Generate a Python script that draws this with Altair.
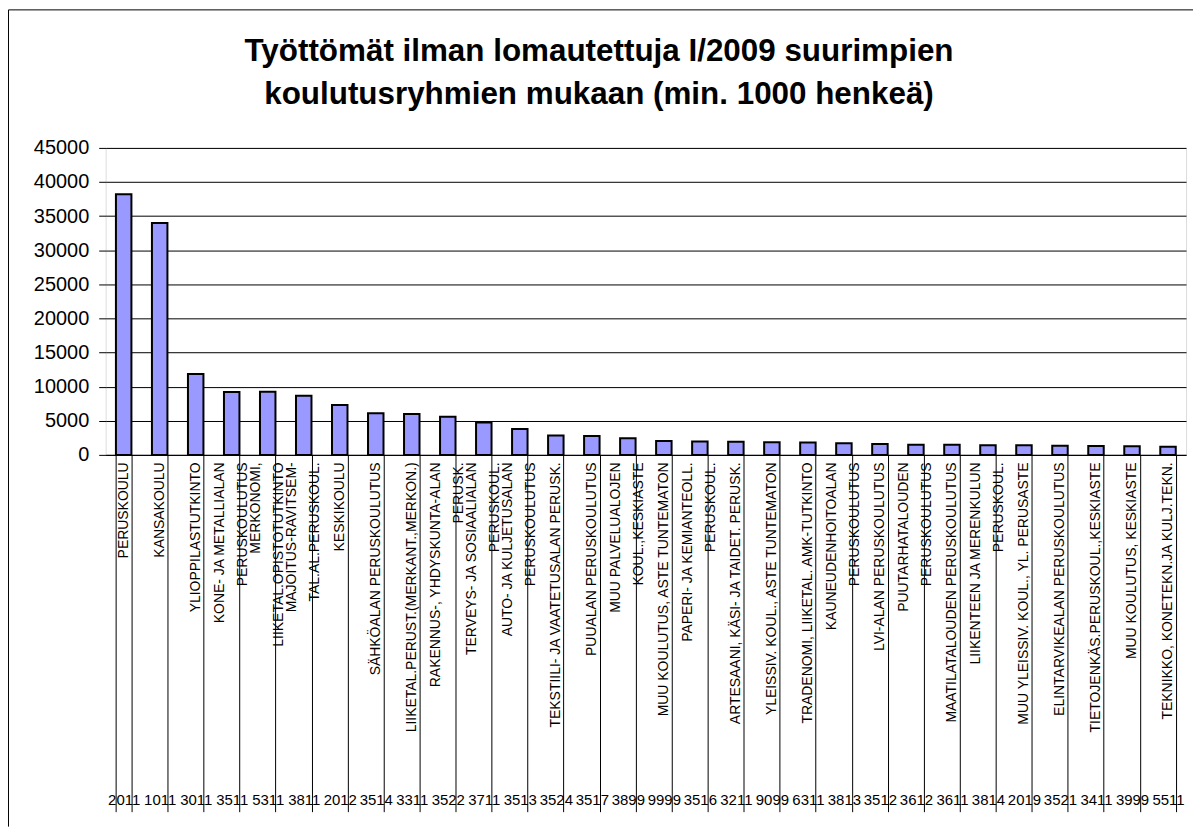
import altair as alt
import pandas as pd

FONT = "Liberation Sans"

codes = ["2011", "1011", "3011", "3511", "5311", "3811", "2012", "3514", "3311", "3522",
         "3711", "3513", "3524", "3517", "3899", "9999", "3516", "3211", "9099", "6311",
         "3813", "3512", "3612", "3611", "3814", "2019", "3521", "3411", "3999", "5511"]

names = [
    ["PERUSKOULU"],
    ["KANSAKOULU"],
    ["YLIOPPILASTUTKINTO"],
    ["KONE- JA METALLIALAN", "PERUSKOULUTUS"],
    ["MERKONOMI,", "LIIKETAL.OPISTOTUTKINTO"],
    ["MAJOITUS-RAVITSEM-", "TAL.AL.PERUSKOUL."],
    ["KESKIKOULU"],
    ["SÄHKÖALAN PERUSKOULUTUS"],
    ["LIIKETAL.PERUST.(MERKANT.,MERKON.)"],
    ["RAKENNUS-, YHDYSKUNTA-ALAN", "PERUSK."],
    ["TERVEYS- JA SOSIAALIALAN", "PERUSKOUL."],
    ["AUTO- JA KULJETUSALAN", "PERUSKOULUTUS"],
    ["TEKSTIILI- JA VAATETUSALAN PERUSK."],
    ["PUUALAN PERUSKOULUTUS"],
    ["MUU PALVELUALOJEN", "KOUL.,KESKIASTE"],
    ["MUU KOULUTUS, ASTE TUNTEMATON"],
    ["PAPERI- JA KEMIANTEOLL.", "PERUSKOUL."],
    ["ARTESAANI, KÄSI- JA TAIDET. PERUSK."],
    ["YLEISSIV. KOUL., ASTE TUNTEMATON"],
    ["TRADENOMI, LIIKETAL. AMK-TUTKINTO"],
    ["KAUNEUDENHOITOALAN", "PERUSKOULUTUS"],
    ["LVI-ALAN PERUSKOULUTUS"],
    ["PUUTARHATALOUDEN", "PERUSKOULUTUS"],
    ["MAATILATALOUDEN PERUSKOULUTUS"],
    ["LIIKENTEEN JA MERENKULUN", "PERUSKOUL."],
    ["MUU YLEISSIV. KOUL., YL. PERUSASTE"],
    ["ELINTARVIKEALAN PERUSKOULUTUS"],
    ["TIETOJENKÄS.PERUSKOUL.,KESKIASTE"],
    ["MUU KOULUTUS, KESKIASTE"],
    ["TEKNIKKO, KONETEKN.JA KULJ.TEKN."],
]

values = [38200, 34000, 11850, 9200, 9250, 8650, 7300, 6100, 6000, 5600,
          4750, 3800, 2850, 2750, 2450, 2050, 1950, 1930, 1850, 1830,
          1700, 1600, 1500, 1480, 1420, 1400, 1320, 1300, 1280, 1200]

y_ticks = [0, 5000, 10000, 15000, 20000, 25000, 30000, 35000, 40000, 45000]

title_lines = ["Työttömät ilman lomautettuja I/2009 suurimpien",
               "koulutusryhmien mukaan (min. 1000 henkeä)"]

keys = [c + "|" + "|".join(n) for c, n in zip(codes, names)]
df = pd.DataFrame({"key": keys, "value": values})

W, H = 1084, 308

xscale = alt.Scale(paddingInner=0.57, paddingOuter=0.285)
yscale = alt.Scale(domain=[0, 45000], nice=False)

y_axis = alt.Axis(values=y_ticks, title=None, grid=True, format="d",
                  gridColor="#000000", gridWidth=1, domain=False,
                  tickColor="#000000", tickSize=7, tickWidth=1,
                  labelFont=FONT, labelFontSize=20, labelPadding=10,
                  labelColor="#000000")

name_offset = alt.condition("length(split(datum.value, '|')) > 2",
                            alt.value(-12), alt.value(0))

bars = alt.Chart(df).mark_bar(
    fill="#9999FF", stroke="#000000", strokeWidth=2
).encode(
    x=alt.X("key:N", sort=keys, scale=xscale,
            axis=alt.Axis(orient="bottom", title=None, labelAngle=270,
                          labelAlign="right", labelBaseline="middle",
                          labelExpr="slice(split(datum.value, '|'), 1)",
                          labelFont=FONT, labelFontSize=14, labelLineHeight=23,
                          labelOffset=name_offset,
                          labelPadding=7, labelColor="#000000", labelLimit=500,
                          labelOverlap=False, ticks=False, domain=True,
                          domainColor="#000000", domainWidth=1)),
    y=alt.Y("value:Q", scale=yscale, axis=y_axis),
)

code_axis = alt.Chart(df).mark_point(opacity=0).encode(
    x=alt.X("key:N", sort=keys, scale=xscale,
            axis=alt.Axis(orient="bottom", title=None, labelAngle=0,
                          labelAlign="center", labelBaseline="top",
                          labelExpr="datum.value ? split(datum.value, '|')[0] : ''",
                          labelFont=FONT, labelFontSize=15, labelPadding=-19,
                          labelColor="#000000", labelOverlap=False,
                          ticks=True, tickBand="extent", tickSize=358,
                          tickColor="#000000", tickWidth=1, domain=False)),
    y=alt.Y("value:Q", scale=yscale, axis=y_axis),
)

one = alt.Data(values=[{}])

frame_left = alt.Chart(one).mark_rule(
    stroke="#000000", strokeWidth=1, clip=False
).encode(x=alt.value(-97.5), y=alt.value(-138.5), y2=alt.value(H + 373))

frame_top = alt.Chart(one).mark_rule(
    stroke="#000000", strokeWidth=1, clip=False
).encode(x=alt.value(-97.5), x2=alt.value(W + 7), y=alt.value(-138.5))

title1 = alt.Chart(one).mark_text(
    text=title_lines[0], font=FONT, fontSize=31.5, fontWeight="bold",
    color="#000000", align="center", baseline="alphabetic", clip=False
).encode(x=alt.value(495), y=alt.value(-87))

title2 = alt.Chart(one).mark_text(
    text=title_lines[1], font=FONT, fontSize=31.5, fontWeight="bold",
    color="#000000", align="center", baseline="alphabetic", clip=False
).encode(x=alt.value(495), y=alt.value(-44))

chart = alt.layer(bars, code_axis, frame_left, frame_top, title1, title2).resolve_axis(
    x="independent"
).properties(
    width=W, height=H,
    autosize=alt.AutoSizeParams(type="none"),
    padding={"left": 98, "top": 139, "right": 7, "bottom": 373},
).configure_view(
    stroke="#808080", strokeWidth=2
).configure(background="#ffffff")

chart.save("out.html", embed_options={"renderer": "svg", "actions": False})
